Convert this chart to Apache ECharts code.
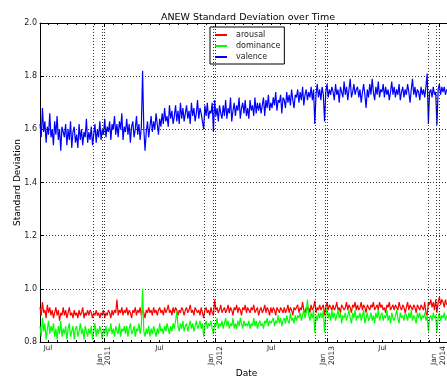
<!DOCTYPE html>
<html>
<head>
<meta charset="utf-8">
<script src="https://cdn.jsdelivr.net/npm/echarts@6/dist/echarts.min.js"></script>
<style>
  html, body { margin: 0; padding: 0; background: #fff; }
  #chart { width: 447px; height: 379px; }
</style>
</head>
<body>
<div id="chart"></div>
<script>
// Samples are taken every 4 days starting 2010-06-05.
const startDate = '2010-06-05';
const stepDays = 4;
const endDate = '2014-01-28';

const arousal = [
  0.93,0.90,0.95,0.91,0.92,0.89,0.94,0.91,0.93,0.90,
  0.92,0.89,0.91,0.93,0.90,0.92,0.88,0.91,0.90,0.93,
  0.90,0.92,0.89,0.91,0.93,0.90,0.91,0.89,0.92,0.90,
  0.91,0.89,0.92,0.90,0.91,0.93,0.89,0.91,0.90,0.92,
  0.90,0.92,0.91,0.89,0.91,0.90,0.92,0.90,0.91,0.89,
  0.91,0.90,0.92,0.89,0.91,0.90,0.92,0.91,0.89,0.92,
  0.90,0.92,0.91,0.96,0.90,0.92,0.91,0.93,0.90,0.92,
  0.91,0.93,0.90,0.92,0.91,0.89,0.92,0.91,0.93,0.90,
  0.92,0.91,0.93,0.90,0.92,0.91,0.89,0.92,0.91,0.93,
  0.91,0.92,0.90,0.93,0.91,0.92,0.90,0.92,0.93,0.91,
  0.92,0.90,0.93,0.91,0.92,0.94,0.91,0.92,0.90,0.93,
  0.91,0.93,0.92,0.90,0.92,0.91,0.93,0.92,0.90,0.92,
  0.93,0.91,0.92,0.94,0.91,0.92,0.90,0.93,0.92,0.91,
  0.92,0.90,0.93,0.91,0.89,0.92,0.93,0.91,0.92,0.90,
  0.93,0.91,0.90,0.96,0.92,0.93,0.91,0.92,0.94,0.91,
  0.92,0.93,0.91,0.92,0.94,0.91,0.93,0.92,0.90,0.93,
  0.92,0.94,0.91,0.93,0.92,0.90,0.93,0.92,0.94,0.91,
  0.93,0.92,0.91,0.93,0.92,0.94,0.91,0.92,0.93,0.90,
  0.92,0.93,0.91,0.92,0.94,0.91,0.93,0.92,0.90,0.93,
  0.91,0.93,0.92,0.90,0.93,0.92,0.91,0.93,0.92,0.91,
  0.93,0.91,0.92,0.94,0.91,0.93,0.92,0.90,0.93,0.92,
  0.92,0.94,0.91,0.93,0.92,0.95,0.92,0.91,0.93,0.92,
  0.93,0.91,0.94,0.92,0.93,0.955,0.91,0.93,0.92,0.94,
  0.92,0.93,0.94,0.90,0.93,0.95,0.92,0.94,0.93,0.92,
  0.94,0.92,0.93,0.95,0.92,0.93,0.91,0.94,0.93,0.92,
  0.93,0.95,0.92,0.94,0.93,0.91,0.94,0.93,0.95,0.92,
  0.94,0.92,0.93,0.95,0.92,0.94,0.93,0.91,0.94,0.93,
  0.92,0.94,0.93,0.95,0.92,0.93,0.94,0.92,0.95,0.93,
  0.94,0.92,0.93,0.91,0.94,0.93,0.95,0.92,0.93,0.94,
  0.92,0.94,0.93,0.92,0.95,0.93,0.92,0.94,0.93,0.91,
  0.93,0.95,0.92,0.94,0.93,0.92,0.94,0.93,0.91,0.94,
  0.93,0.92,0.94,0.93,0.92,0.95,0.91,0.90,0.95,0.94,
  0.96,0.93,0.95,0.92,0.96,0.91,0.95,0.97,0.94,0.96,
  0.95,0.93,0.96,0.94
];

const dominance = [
  0.86,0.82,0.89,0.84,0.87,0.81,0.85,0.88,0.83,0.86,
  0.84,0.87,0.82,0.85,0.81,0.86,0.83,0.88,0.82,0.85,
  0.83,0.86,0.81,0.85,0.87,0.82,0.84,0.86,0.81,0.85,
  0.86,0.82,0.84,0.87,0.83,0.85,0.81,0.86,0.84,0.82,
  0.85,0.83,0.86,0.81,0.84,0.87,0.82,0.85,0.83,0.86,
  0.84,0.81,0.85,0.83,0.86,0.82,0.85,0.84,0.87,0.83,
  0.85,0.82,0.86,0.84,0.83,0.87,0.82,0.85,0.84,0.86,
  0.83,0.86,0.82,0.85,0.87,0.83,0.84,0.86,0.82,0.85,
  0.84,0.87,0.83,0.86,1.00,0.84,0.82,0.85,0.83,0.86,
  0.82,0.85,0.83,0.86,0.84,0.82,0.85,0.83,0.87,0.84,
  0.85,0.83,0.86,0.84,0.87,0.85,0.83,0.86,0.84,0.87,
  0.85,0.88,0.915,0.86,0.84,0.87,0.85,0.88,0.84,0.86,
  0.87,0.84,0.86,0.88,0.85,0.87,0.84,0.86,0.88,0.85,
  0.86,0.88,0.85,0.87,0.82,0.86,0.88,0.85,0.87,0.86,
  0.88,0.85,0.83,0.87,0.86,0.89,0.85,0.87,0.86,0.88,
  0.85,0.87,0.89,0.86,0.88,0.85,0.87,0.86,0.89,0.85,
  0.87,0.85,0.88,0.86,0.89,0.87,0.85,0.88,0.86,0.87,
  0.86,0.88,0.85,0.87,0.86,0.89,0.86,0.88,0.85,0.87,
  0.88,0.86,0.87,0.85,0.88,0.87,0.89,0.86,0.88,0.87,
  0.87,0.89,0.86,0.88,0.87,0.90,0.87,0.89,0.86,0.88,
  0.89,0.87,0.90,0.88,0.87,0.91,0.88,0.89,0.87,0.90,
  0.88,0.90,0.89,0.91,0.88,0.90,0.92,0.89,0.91,0.96,
  0.90,0.88,0.91,0.89,0.92,0.835,0.90,0.88,0.91,0.89,
  0.91,0.89,0.92,0.835,0.90,0.93,0.89,0.91,0.88,0.92,
  0.89,0.91,0.88,0.90,0.92,0.89,0.91,0.87,0.90,0.89,
  0.91,0.88,0.90,0.92,0.89,0.87,0.91,0.89,0.92,0.88,
  0.90,0.89,0.91,0.88,0.90,0.92,0.87,0.89,0.91,0.88,
  0.89,0.91,0.88,0.90,0.87,0.91,0.89,0.92,0.88,0.90,
  0.91,0.88,0.90,0.89,0.92,0.88,0.90,0.87,0.91,0.89,
  0.88,0.90,0.92,0.89,0.87,0.91,0.89,0.90,0.88,0.91,
  0.90,0.88,0.91,0.89,0.92,0.88,0.90,0.89,0.87,0.91,
  0.89,0.91,0.88,0.90,0.89,0.91,0.88,0.90,0.84,0.89,
  0.90,0.88,0.91,0.89,0.90,0.835,0.89,0.91,0.88,0.90,
  0.89,0.91,0.88,0.90
];

const valence = [
  1.62,1.57,1.68,1.59,1.63,1.55,1.61,1.58,1.66,1.57,
  1.60,1.54,1.63,1.58,1.65,1.56,1.60,1.52,1.61,1.59,
  1.57,1.62,1.54,1.60,1.56,1.63,1.53,1.59,1.61,1.55,
  1.58,1.53,1.62,1.56,1.60,1.54,1.59,1.57,1.64,1.55,
  1.59,1.56,1.61,1.54,1.58,1.62,1.55,1.60,1.57,1.63,
  1.56,1.60,1.58,1.64,1.57,1.61,1.59,1.63,1.56,1.62,
  1.60,1.65,1.58,1.62,1.57,1.63,1.60,1.66,1.56,1.61,
  1.59,1.64,1.58,1.62,1.55,1.61,1.63,1.57,1.60,1.65,
  1.58,1.62,1.56,1.61,1.82,1.60,1.52,1.59,1.63,1.57,
  1.61,1.65,1.59,1.63,1.60,1.66,1.62,1.58,1.64,1.61,
  1.66,1.62,1.68,1.63,1.65,1.61,1.69,1.64,1.67,1.62,
  1.65,1.69,1.63,1.67,1.62,1.70,1.64,1.68,1.63,1.66,
  1.69,1.64,1.67,1.62,1.70,1.65,1.68,1.63,1.66,1.71,
  1.64,1.68,1.66,1.63,1.60,1.69,1.65,1.70,1.64,1.67,
  1.66,1.70,1.59,1.71,1.65,1.68,1.63,1.69,1.66,1.64,
  1.69,1.65,1.71,1.64,1.68,1.66,1.72,1.63,1.67,1.70,
  1.65,1.69,1.67,1.72,1.64,1.68,1.70,1.66,1.71,1.65,
  1.68,1.64,1.71,1.67,1.69,1.65,1.72,1.66,1.70,1.67,
  1.70,1.66,1.69,1.72,1.65,1.71,1.68,1.73,1.67,1.70,
  1.68,1.72,1.69,1.74,1.67,1.71,1.70,1.73,1.66,1.72,
  1.71,1.68,1.74,1.70,1.73,1.69,1.75,1.71,1.68,1.73,
  1.72,1.75,1.70,1.74,1.71,1.76,1.69,1.73,1.75,1.71,
  1.74,1.72,1.76,1.71,1.75,1.62,1.73,1.77,1.72,1.75,
  1.71,1.76,1.73,1.63,1.74,1.77,1.72,1.75,1.73,1.76,
  1.74,1.71,1.77,1.73,1.75,1.70,1.76,1.74,1.72,1.78,
  1.73,1.76,1.71,1.75,1.79,1.72,1.74,1.77,1.73,1.75,
  1.76,1.72,1.75,1.70,1.74,1.77,1.73,1.68,1.75,1.72,
  1.77,1.73,1.79,1.74,1.71,1.76,1.73,1.78,1.72,1.75,
  1.74,1.77,1.72,1.76,1.73,1.75,1.71,1.74,1.78,1.73,
  1.76,1.72,1.75,1.73,1.77,1.71,1.74,1.76,1.72,1.75,
  1.73,1.77,1.74,1.70,1.75,1.79,1.73,1.76,1.72,1.75,
  1.74,1.71,1.76,1.73,1.75,1.72,1.76,1.81,1.62,1.74,
  1.75,1.72,1.76,1.73,1.74,1.615,1.75,1.77,1.73,1.76,
  1.74,1.76,1.73,1.75
];

// Thanksgiving, Christmas and New Year's Day markers
const holidayDates = [
  '2010-11-25','2010-12-25','2011-01-01',
  '2011-11-24','2011-12-25','2012-01-01',
  '2012-11-22','2012-12-25','2013-01-01',
  '2013-11-28','2013-12-25','2014-01-01'
];
const yearTickDates = ['2011-01-01','2012-01-01','2013-01-01','2014-01-01'];
const yearTickLabels = ['2011','2012','2013','2014'];
const julyTickDates = ['2010-07-01','2011-07-01','2012-07-01','2013-07-01'];
const julyTickLabel = 'Jul';
const yMin = 0.8, yMax = 2.0, yStep = 0.2;

function utc(s) {
  const p = s.split('-').map(Number);
  return Date.UTC(p[0], p[1] - 1, p[2]);
}
const DAY = 86400000;
const t0 = utc(startDate);
const toPairs = vals => vals.map((v, i) => [t0 + i * stepDays * DAY, v]);

// month starts for minor ticks
const monthTicks = [];
for (let y = 2010; y <= 2014; y++) {
  for (let m = 0; m < 12; m++) {
    const t = Date.UTC(y, m, 1);
    if (t > t0 && t < utc(endDate)) monthTicks.push(t);
  }
}
const yearTicks = yearTickDates.map(utc);
const julyTicks = julyTickDates.map(utc);

const FONT = 'DejaVu Sans';
const black = '#000';
const labelColor = '#222';

// Dates are plotted as millisecond timestamps on value axes
const baseX = {
  type: 'value',
  min: t0,
  max: utc(endDate),
  gridIndex: 0,
  splitLine: { show: false },
  axisPointer: { show: false }
};

const chart = echarts.init(document.getElementById('chart'), null, { renderer: 'canvas' });
chart.setOption({
  animation: false,
  backgroundColor: '#fff',
  textStyle: { fontFamily: FONT },
  title: {
    text: 'ANEW Standard Deviation over Time',
    left: 243,
    textAlign: 'center',
    top: 8,
    textStyle: { fontFamily: FONT, fontSize: 9.5, fontWeight: 'normal', color: black }
  },
  grid: { left: 40, right: 0, top: 23, bottom: 37, containLabel: false, outerBoundsMode: 'none' },
  legend: {
    orient: 'vertical',
    left: 210,
    top: 27,
    backgroundColor: '#fff',
    borderColor: black,
    borderWidth: 1,
    borderRadius: 0,
    padding: [3, 4, 2, 5],
    itemGap: 1,
    itemWidth: 12,
    itemHeight: 2,
    icon: 'rect',
    textStyle: { fontFamily: FONT, fontSize: 8, color: labelColor, padding: [0, 0, 0, 4], lineHeight: 10 },
    data: ['arousal', 'dominance', 'valence']
  },
  xAxis: [
    Object.assign({}, baseX, {
      position: 'bottom',
      name: 'Date',
      nameLocation: 'middle',
      nameGap: 27,
      nameMoveOverlap: false,
      nameTextStyle: { fontFamily: FONT, fontSize: 9, color: black, padding: [0, 0, 0, 6] },
      axisLine: { show: true, onZero: false, lineStyle: { color: black, width: 1 } },
      axisTick: { show: true, inside: true, length: 2, customValues: monthTicks, lineStyle: { color: black } },
      axisLabel: {
        show: true, customValues: julyTicks, margin: 3,
        fontFamily: FONT, fontSize: 7, color: labelColor,
        formatter: () => julyTickLabel
      }
    }),
    Object.assign({}, baseX, {
      position: 'bottom',
      axisLine: { show: false, onZero: false },
      axisTick: { show: true, inside: true, length: 4, customValues: yearTicks, lineStyle: { color: black } },
      axisLabel: {
        show: true, customValues: yearTicks, rotate: 90, margin: 2,
        color: labelColor,
        formatter: v => {
          const i = yearTicks.indexOf(v);
          return '{a|Jan}\n{a|' + yearTickLabels[i] + '}';
        },
        rich: { a: { fontFamily: FONT, fontSize: 7.5, width: 21, align: 'left', lineHeight: 8.5, color: labelColor } }
      }
    }),
    Object.assign({}, baseX, {
      position: 'top',
      axisLine: { show: true, onZero: false, lineStyle: { color: black, width: 1 } },
      axisTick: { show: true, inside: true, length: 2, customValues: monthTicks, lineStyle: { color: black } },
      axisLabel: { show: false }
    }),
    Object.assign({}, baseX, {
      position: 'top',
      axisLine: { show: false, onZero: false },
      axisTick: { show: true, inside: true, length: 4, customValues: yearTicks, lineStyle: { color: black } },
      axisLabel: { show: false }
    })
  ],
  yAxis: [{
    type: 'value',
    min: yMin,
    max: yMax,
    interval: yStep,
    name: 'Standard Deviation',
    nameLocation: 'middle',
    nameGap: 18,
    nameMoveOverlap: false,
    nameTextStyle: { fontFamily: FONT, fontSize: 9, color: black },
    axisLine: { show: true, onZero: false, lineStyle: { color: black, width: 1 } },
    axisTick: { show: true, inside: true, length: 4, lineStyle: { color: black } },
    axisLabel: { fontFamily: FONT, fontSize: 8, color: labelColor, margin: 3, formatter: v => v.toFixed(1) },
    splitLine: { show: true, lineStyle: { color: black, width: 0.8, type: [1, 2] } }
  }],
  series: [
    {
      name: 'arousal', type: 'line', showSymbol: false, symbol: 'none',
      data: toPairs(arousal), color: '#ff0000', lineStyle: { width: 1.2, color: '#ff0000' },
      markLine: {
        silent: true, symbol: ['none', 'none'], label: { show: false },
        lineStyle: { color: black, width: 0.8, type: [1, 2] },
        data: holidayDates.map(d => ({ xAxis: utc(d) }))
      }
    },
    {
      name: 'dominance', type: 'line', showSymbol: false, symbol: 'none',
      data: toPairs(dominance), color: '#00ff00', lineStyle: { width: 1.2, color: '#00ff00' }
    },
    {
      name: 'valence', type: 'line', showSymbol: false, symbol: 'none',
      data: toPairs(valence), color: '#0000ff', lineStyle: { width: 1.2, color: '#0000ff' }
    }
  ]
});
</script>
</body>
</html>
